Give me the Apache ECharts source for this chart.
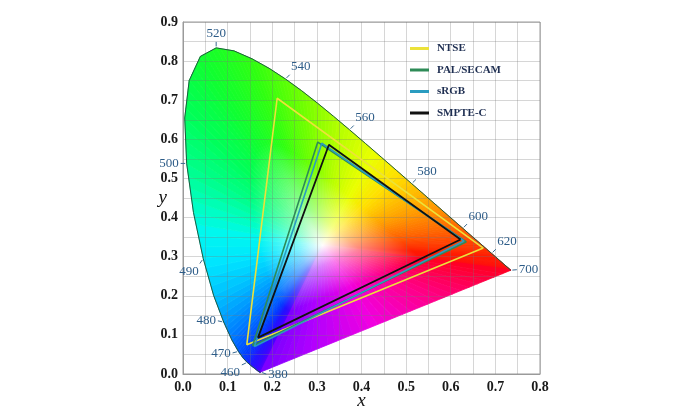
<!DOCTYPE html>
<html>
<head>
<meta charset="utf-8">
<script src="https://cdn.jsdelivr.net/npm/echarts@6/dist/echarts.min.js"></script>
<style>html,body{margin:0;padding:0;background:#fff}#c{width:700px;height:420px}</style>
</head>
<body>
<div id="c"></div>
<script>
// CIE 1931 spectral locus (wavelength nm, x, y)
const locusWl = [380,385,390,395,400,405,410,415,420,425,430,435,440,445,450,455,460,465,470,475,480,485,490,495,500,505,510,515,520,525,530,535,540,545,550,555,560,565,570,575,580,585,590,595,600,605,610,615,620,625,630,640,650,660,680,700];
const locusX = [0.1741,0.1740,0.1738,0.1736,0.1733,0.1730,0.1726,0.1721,0.1714,0.1703,0.1689,0.1669,0.1644,0.1611,0.1566,0.1510,0.1440,0.1355,0.1241,0.1096,0.0913,0.0687,0.0454,0.0235,0.0082,0.0039,0.0139,0.0389,0.0743,0.1142,0.1547,0.1929,0.2296,0.2658,0.3016,0.3373,0.3731,0.4087,0.4441,0.4788,0.5125,0.5448,0.5752,0.6029,0.6270,0.6482,0.6658,0.6801,0.6915,0.7006,0.7079,0.7190,0.7260,0.7300,0.7334,0.7347];
const locusY = [0.0050,0.0050,0.0049,0.0049,0.0048,0.0048,0.0048,0.0048,0.0051,0.0058,0.0069,0.0086,0.0109,0.0138,0.0177,0.0227,0.0297,0.0399,0.0578,0.0868,0.1327,0.2007,0.2950,0.4127,0.5384,0.6548,0.7502,0.8120,0.8338,0.8262,0.8059,0.7816,0.7543,0.7243,0.6923,0.6589,0.6245,0.5896,0.5547,0.5202,0.4866,0.4544,0.4242,0.3965,0.3725,0.3514,0.3340,0.3197,0.3083,0.2993,0.2920,0.2809,0.2740,0.2700,0.2666,0.2653];
const whitePoint = [0.3127, 0.3290];

// labelled wavelengths
const markWl = [380,460,470,480,490,500,520,540,560,580,600,620,700];

// gamut triangles (R, G, B)
const seriesNames = ['NTSE','PAL/SECAM','sRGB','SMPTE-C'];
const ntsc  = [[0.673,0.322],[0.211,0.705],[0.143,0.075]];
const pal   = [[0.635,0.338],[0.302,0.593],[0.156,0.072]];
const srgb  = [[0.630,0.340],[0.311,0.590],[0.160,0.070]];
const smpte = [[0.622,0.344],[0.327,0.586],[0.168,0.093]];

// ---- styling ----
const lineColors = ['#ece23a','#2e8b57','#2a9cc0','#111111'];
const markAngle = {380:-20,460:205,470:195,480:168,490:235,500:180,520:90,540:45,560:45,580:45,600:45,620:45,700:5};
const wlColorStops = [[380,'#7a00ff'],[430,'#4a00ff'],[455,'#2010ff'],[465,'#0038ff'],[473,'#0068ff'],[480,'#0098ff'],[485,'#00c4ff'],[489,'#00e4ff'],[493,'#00f8f0'],[496,'#00ffc0'],[500,'#00ff88'],[506,'#00ff58'],[515,'#10ff30'],[530,'#30ff10'],[545,'#70ff00'],[558,'#b8ff00'],[568,'#eaff00'],[576,'#ffe000'],[585,'#ffae00'],[595,'#ff7a00'],[608,'#ff4400'],[625,'#ff1a00'],[700,'#ff0020']];
const purpleStops = [[0,'#ff0020'],[0.3,'#ff0088'],[0.55,'#f000e0'],[0.8,'#b000ff'],[1,'#7a00ff']];

function hexRgb(h){return [parseInt(h.slice(1,3),16),parseInt(h.slice(3,5),16),parseInt(h.slice(5,7),16)];}
function mix(a,b,t){return [0,1,2].map(k=>Math.round(a[k]+(b[k]-a[k])*t));}
function rgbStr(c){return 'rgb('+c[0]+','+c[1]+','+c[2]+')';}
function stopColor(stops,v){
  if (v<=stops[0][0]) return hexRgb(stops[0][1]);
  for (let k=1;k<stops.length;k++){
    if (v<=stops[k][0]){
      const t=(v-stops[k-1][0])/(stops[k][0]-stops[k-1][0]);
      return mix(hexRgb(stops[k-1][1]),hexRgb(stops[k][1]),t);
    }
  }
  return hexRgb(stops[stops.length-1][1]);
}
const WHITE=[255,255,255];
function triShape(W,A,B,col){
  const M=[(A[0]+B[0])/2,(A[1]+B[1])/2];
  const grad=new echarts.graphic.LinearGradient(M[0],M[1],W[0],W[1],[
    {offset:0,color:rgbStr(col)},
    {offset:0.48,color:rgbStr(col)},
    {offset:0.8,color:rgbStr(mix(col,WHITE,0.5))},
    {offset:1,color:'rgb(255,252,252)'}
  ],true);
  return {type:'polygon',shape:{points:[W,A,B]},style:{fill:grad,stroke:grad,lineWidth:0.8}};
}
function fan(W,A,B,colorAt,parts){
  const out=[];
  for (let k=0;k<parts;k++){
    const t0=k/parts,t1=(k+1)/parts;
    const P0=[A[0]+(B[0]-A[0])*t0,A[1]+(B[1]-A[1])*t0];
    const P1=[A[0]+(B[0]-A[0])*t1,A[1]+(B[1]-A[1])*t1];
    out.push(triShape(W,P0,P1,colorAt((t0+t1)/2)));
  }
  return out;
}
function renderFill(params,api){
  const i=api.value(2);
  const n=locusX.length;
  const W=api.coord(whitePoint);
  if (i<n-1){
    const A=api.coord([locusX[i],locusY[i]]);
    const B=api.coord([locusX[i+1],locusY[i+1]]);
    const w0=locusWl[i],w1=locusWl[i+1];
    return {type:'group',children:fan(W,A,B,t=>stopColor(wlColorStops,w0+(w1-w0)*t),4)};
  }
  // line of purples: from 700 back to 380
  const A=api.coord([locusX[n-1],locusY[n-1]]);
  const B=api.coord([locusX[0],locusY[0]]);
  return {type:'group',children:fan(W,A,B,t=>stopColor(purpleStops,t),30)};
}
function renderMarks(params,api){
  const p=api.coord([api.value(0),api.value(1)]);
  const wl=api.value(2);
  const a=markAngle[wl]*Math.PI/180;
  const dx=Math.cos(a),dy=-Math.sin(a);
  const align=dx>0.35?'left':(dx<-0.35?'right':'center');
  const va=dy<-0.35?'bottom':(dy>0.35?'top':'middle');
  return {type:'group',children:[
    {type:'line',shape:{x1:p[0]+dx*1.5,y1:p[1]+dy*1.5,x2:p[0]+dx*6,y2:p[1]+dy*6},style:{stroke:'#3a6a90',lineWidth:1}},
    {type:'text',style:{text:String(wl),x:p[0]+dx*8,y:p[1]+dy*8,fill:'#2d5c88',font:'13px "Liberation Serif", "DejaVu Serif", serif',align:align,verticalAlign:va}}
  ]};
}
function tri(pts){return pts.concat([pts[0]]);}

const chart=echarts.init(document.getElementById('c'));
const gridColor='rgba(120,120,120,0.3)';
const axisLabelStyle={fontFamily:'"Liberation Serif", "DejaVu Serif", serif',fontWeight:'bold',fontSize:14,color:'#1a1a1a'};
const axisNameStyle={fontFamily:'"Liberation Serif", "DejaVu Serif", serif',fontStyle:'italic',fontSize:19,color:'#111'};
chart.setOption({
  animation:false,
  backgroundColor:'#ffffff',
  grid:{left:183,right:160,top:22,bottom:46,show:true,borderColor:'#9a9a9a',borderWidth:1,backgroundColor:'transparent',outerBoundsMode:'none'},
  legend:{
    data:seriesNames.map(n=>({name:n,icon:'rect'})),orient:'vertical',left:405,top:38,itemWidth:19,itemHeight:3,itemGap:10.5,
    textStyle:{fontFamily:'"Liberation Serif", "DejaVu Serif", serif',fontWeight:'bold',fontSize:11,color:'#1f2f52',padding:[0,0,0,3]}
  },
  xAxis:{type:'value',min:0,max:0.8,interval:0.1,z:3,
    axisLine:{show:true,lineStyle:{color:'#9a9a9a'}},axisTick:{show:false},
    splitLine:{show:true,lineStyle:{color:gridColor}},
    minorTick:{show:false,splitNumber:2},minorSplitLine:{show:true,lineStyle:{color:gridColor}},
    axisLabel:Object.assign({formatter:v=>v.toFixed(1),margin:6},axisLabelStyle),
    name:'x',nameLocation:'middle',nameGap:17,nameMoveOverlap:false,nameTextStyle:axisNameStyle},
  yAxis:{type:'value',min:0,max:0.9,interval:0.1,z:3,
    axisLine:{show:true,lineStyle:{color:'#9a9a9a'}},axisTick:{show:false},
    splitLine:{show:true,lineStyle:{color:gridColor}},
    minorTick:{show:false,splitNumber:2},minorSplitLine:{show:true,lineStyle:{color:gridColor}},
    axisLabel:Object.assign({formatter:v=>v.toFixed(1),margin:5},axisLabelStyle),
    name:'y',nameLocation:'middle',nameGap:16,nameRotate:0,nameMoveOverlap:false,nameTextStyle:axisNameStyle},
  series:[
    {type:'custom',name:'fill',z:1,silent:true,renderItem:renderFill,
     encode:{x:0,y:1},data:locusX.map((x,i)=>[x,locusY[i],i])},
    {type:'line',name:'locus',z:4,silent:true,symbol:'none',
     lineStyle:{color:'#1f5a40',width:1},data:locusX.map((x,i)=>[x,locusY[i]])},
    {type:'custom',name:'marks',z:4,silent:true,renderItem:renderMarks,encode:{x:0,y:1},
     data:markWl.map(wl=>{const k=locusWl.indexOf(wl);return [locusX[k],locusY[k],wl];})},
    {type:'line',name:seriesNames[0],z:5,symbol:'none',color:lineColors[0],lineStyle:{width:1.6,color:lineColors[0]},data:tri(ntsc)},
    {type:'line',name:seriesNames[1],z:5,symbol:'none',color:lineColors[1],lineStyle:{width:1.6,color:lineColors[1]},data:tri(pal)},
    {type:'line',name:seriesNames[2],z:5,symbol:'none',color:lineColors[2],lineStyle:{width:1.6,color:lineColors[2]},data:tri(srgb)},
    {type:'line',name:seriesNames[3],z:6,symbol:'none',color:lineColors[3],lineStyle:{width:1.8,color:lineColors[3]},data:tri(smpte)}
  ]
});
</script>
</body>
</html>
